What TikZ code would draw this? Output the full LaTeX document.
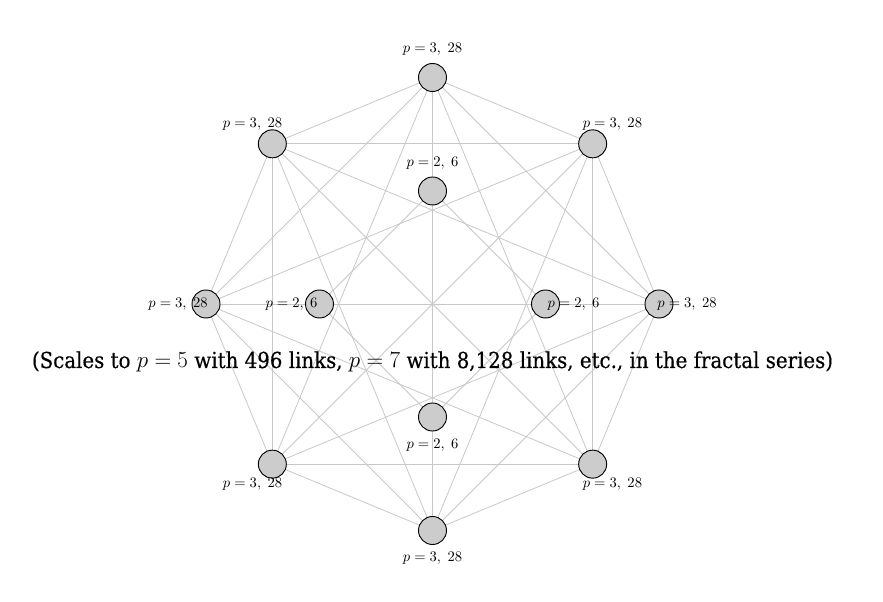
\documentclass[tikz,border=0pt]{standalone}
\usepackage{fontspec}
\newfontfamily\capfont[FakeStretch=0.9,FakeBold=0.4]{DejaVu Serif}
\definecolor{edgegray}{RGB}{200,200,200}
\definecolor{nodegray}{RGB}{204,204,204}
\tikzset{
  vtx/.style={circle, draw=black, fill=nodegray, minimum size=21pt, inner sep=0pt, line width=0.7pt},
  lk/.style={draw=edgegray, line width=0.6pt},
  lab/.style={font=\fontsize{10.8}{13}\selectfont, inner sep=0pt},
  captxt/.style={font=\capfont\fontsize{16.5}{20}\selectfont, inner sep=0pt, anchor=base}
}
\begin{document}
\begin{tikzpicture}[x=0.75pt,y=0.75pt]
\useasboundingbox (-432.5,-298) rectangle (450.5,304);
% outer vertices (positions)
\foreach \n/\a in {o1/90,o2/45,o3/0,o4/-45,o5/-90,o6/-135,o7/180,o8/135}
  \coordinate (\n) at (\a:226.5);
\foreach \n/\a in {i1/90,i2/0,i3/-90,i4/180}
  \coordinate (\n) at (\a:113);
% links: complete graph on the outer ring
\foreach \i in {1,...,7}{
  \pgfmathtruncatemacro{\s}{\i+1}
  \foreach \j in {\s,...,8}{
    \draw[lk] (o\i) -- (o\j);
  }
}
% links: complete graph on the inner ring
\foreach \i/\j in {1/2,1/3,1/4,2/3,2/4,3/4}
  \draw[lk] (i\i) -- (i\j);
% vertices
\foreach \n in {o1,o2,o3,o4,o5,o6,o7,o8,i1,i2,i3,i4}
  \node[vtx] (v\n) at (\n) {};
% labels
\foreach \n/\a in {lo1/90,lo2/45,lo3/0,lo4/-45,lo5/-90,lo6/-135,lo7/180,lo8/135}
  \node[lab] (\n) at (\a:254.5) {$p=3,\;28$};
\foreach \n/\a in {li1/90,li2/0,li3/-90,li4/180}
  \node[lab] (\n) at (\a:141) {$p=2,\;6$};
% caption
\node[captxt] (cap) at (0,-64) {(Scales to $p=5$ with 496 links, $p=7$ with 8,128 links, etc., in the fractal series)};
\end{tikzpicture}
\end{document}
